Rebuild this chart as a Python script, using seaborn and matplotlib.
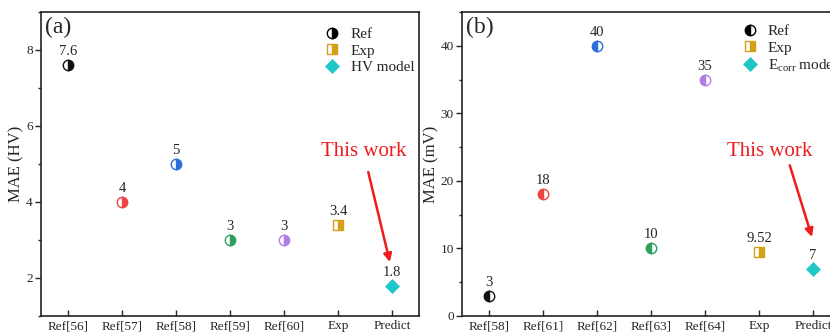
import matplotlib
matplotlib.use("Agg")
import matplotlib.pyplot as plt
from matplotlib.lines import Line2D
from matplotlib.ticker import MultipleLocator
import seaborn as sns
import pandas as pd

# ---- data ----
cats_a = ["Ref[56]", "Ref[57]", "Ref[58]", "Ref[59]", "Ref[60]", "Exp", "Predict"]
vals_a = [7.6, 4, 5, 3, 3, 3.4, 1.8]
labels_a = ["7.6", "4", "5", "3", "3", "3.4", "1.8"]
groups_a = ["Ref", "Ref", "Ref", "Ref", "Ref", "Exp", "Model"]

cats_b = ["Ref[58]", "Ref[61]", "Ref[62]", "Ref[63]", "Ref[64]", "Exp", "Predict"]
vals_b = [3, 18, 40, 10, 35, 9.52, 7]
labels_b = ["3", "18", "40", "10", "35", "9.52", "7"]
groups_b = ["Ref", "Ref", "Ref", "Ref", "Ref", "Exp", "Model"]

ref_colors = ["#111111", "#ee4444", "#2a6fdb", "#2ea05e", "#b27ee6"]
exp_color = "#d4a017"
model_color = "#1fc8c8"

sns.set_theme(style="ticks")
plt.rcParams["font.family"] = ["Liberation Serif", "DejaVu Serif"]
plt.rcParams["mathtext.fontset"] = "custom"
plt.rcParams["mathtext.rm"] = "Liberation Serif"
plt.rcParams["mathtext.it"] = "Liberation Serif:italic"

fig = plt.figure(figsize=(8.3, 3.35), dpi=100)
ax_a = fig.add_axes([41/830, 19/335, 378/830, 304/335])
ax_b = fig.add_axes([462/830, 19/335, 378/830, 304/335])


def draw(ax, cats, vals, labels, groups, fill, ylim, major, minor, ylabel,
         model_label, tag, text_xy, arrow_from, arrow_to, leg_anchor):
    df = pd.DataFrame({"category": cats, "mae": vals, "group": groups})
    ref = df[df.group == "Ref"]
    pal = dict(zip(ref.category, ref_colors))
    sns.pointplot(data=ref, x="category", y="mae", hue="category", order=cats,
                  palette=pal, markers="o", linestyles="none", errorbar=None,
                  legend=False, ax=ax, fillstyle=fill, markerfacecoloralt="white",
                  markersize=7.5, markeredgewidth=1.0)
    exp = df[df.group == "Exp"]
    sns.pointplot(data=exp, x="category", y="mae", order=cats, color=exp_color,
                  markers="s", linestyles="none", errorbar=None, ax=ax,
                  fillstyle="right", markerfacecoloralt="white",
                  markersize=6.5, markeredgewidth=1.0)
    mod = df[df.group == "Model"]
    sns.pointplot(data=mod, x="category", y="mae", order=cats, color=model_color,
                  markers="D", linestyles="none", errorbar=None, ax=ax,
                  markersize=7.5, markeredgewidth=0.5)
    for i, (v, l) in enumerate(zip(vals, labels)):
        ax.annotate(l, (i, v), xytext=(0, 5), textcoords="offset points",
                    ha="center", va="bottom", fontsize=10.5)
    ax.set_xlim(-0.5, 6.5)
    ax.set_ylim(*ylim)
    ax.yaxis.set_major_locator(MultipleLocator(major))
    ax.yaxis.set_minor_locator(MultipleLocator(minor))
    ax.set_xlabel("")
    ax.set_ylabel(ylabel, fontsize=12, labelpad=1)
    ax.tick_params(axis="y", direction="out", length=4, width=1, labelsize=9.5, pad=2)
    ax.tick_params(axis="y", which="minor", direction="out", length=2.5, width=1)
    ax.tick_params(axis="x", direction="in", length=4, width=1, labelsize=9.5, pad=3)
    for s in ax.spines.values():
        s.set_linewidth(1.2)
        s.set_color("#222222")
    ax.text(0.01, 0.985, tag, transform=ax.transAxes, fontsize=17,
            ha="left", va="top")
    ax.text(*text_xy, "This work", color="#ee1c1c", fontsize=15, ha="center",
            va="center")
    ax.annotate("", xy=arrow_to, xytext=arrow_from,
                arrowprops=dict(arrowstyle="-|>", color="#ee1c1c", lw=1.8,
                                mutation_scale=12, shrinkA=0, shrinkB=0))
    handles = [
        Line2D([], [], marker="o", linestyle="none", color="black",
               fillstyle=fill, markerfacecoloralt="white", markersize=7.5),
        Line2D([], [], marker="s", linestyle="none", color=exp_color,
               fillstyle="right", markerfacecoloralt="white", markersize=6.5),
        Line2D([], [], marker="D", linestyle="none", color=model_color,
               markersize=7.5, markeredgewidth=0.5),
    ]
    ax.legend(handles, ["Ref", "Exp", model_label], loc="upper left",
              bbox_to_anchor=leg_anchor, frameon=False, fontsize=11,
              handletextpad=0.6, labelspacing=0.2, handlelength=1.2)


draw(ax_a, cats_a, vals_a, labels_a, groups_a, "right", (1, 9), 2, 1,
     "MAE (HV)", "HV model", "(a)", (5.48, 5.32), (5.56, 4.79), (5.96, 2.42),
     (0.71, 0.995))
draw(ax_b, cats_b, vals_b, labels_b, groups_b, "left", (0, 45), 10, 5,
     "MAE (mV)", r"E$_{\rm corr}$ model", "(b)", (5.2, 24.4), (5.57, 22.3),
     (5.98, 11.7), (0.70, 1.005))

fig.savefig("out.png", dpi=100)
